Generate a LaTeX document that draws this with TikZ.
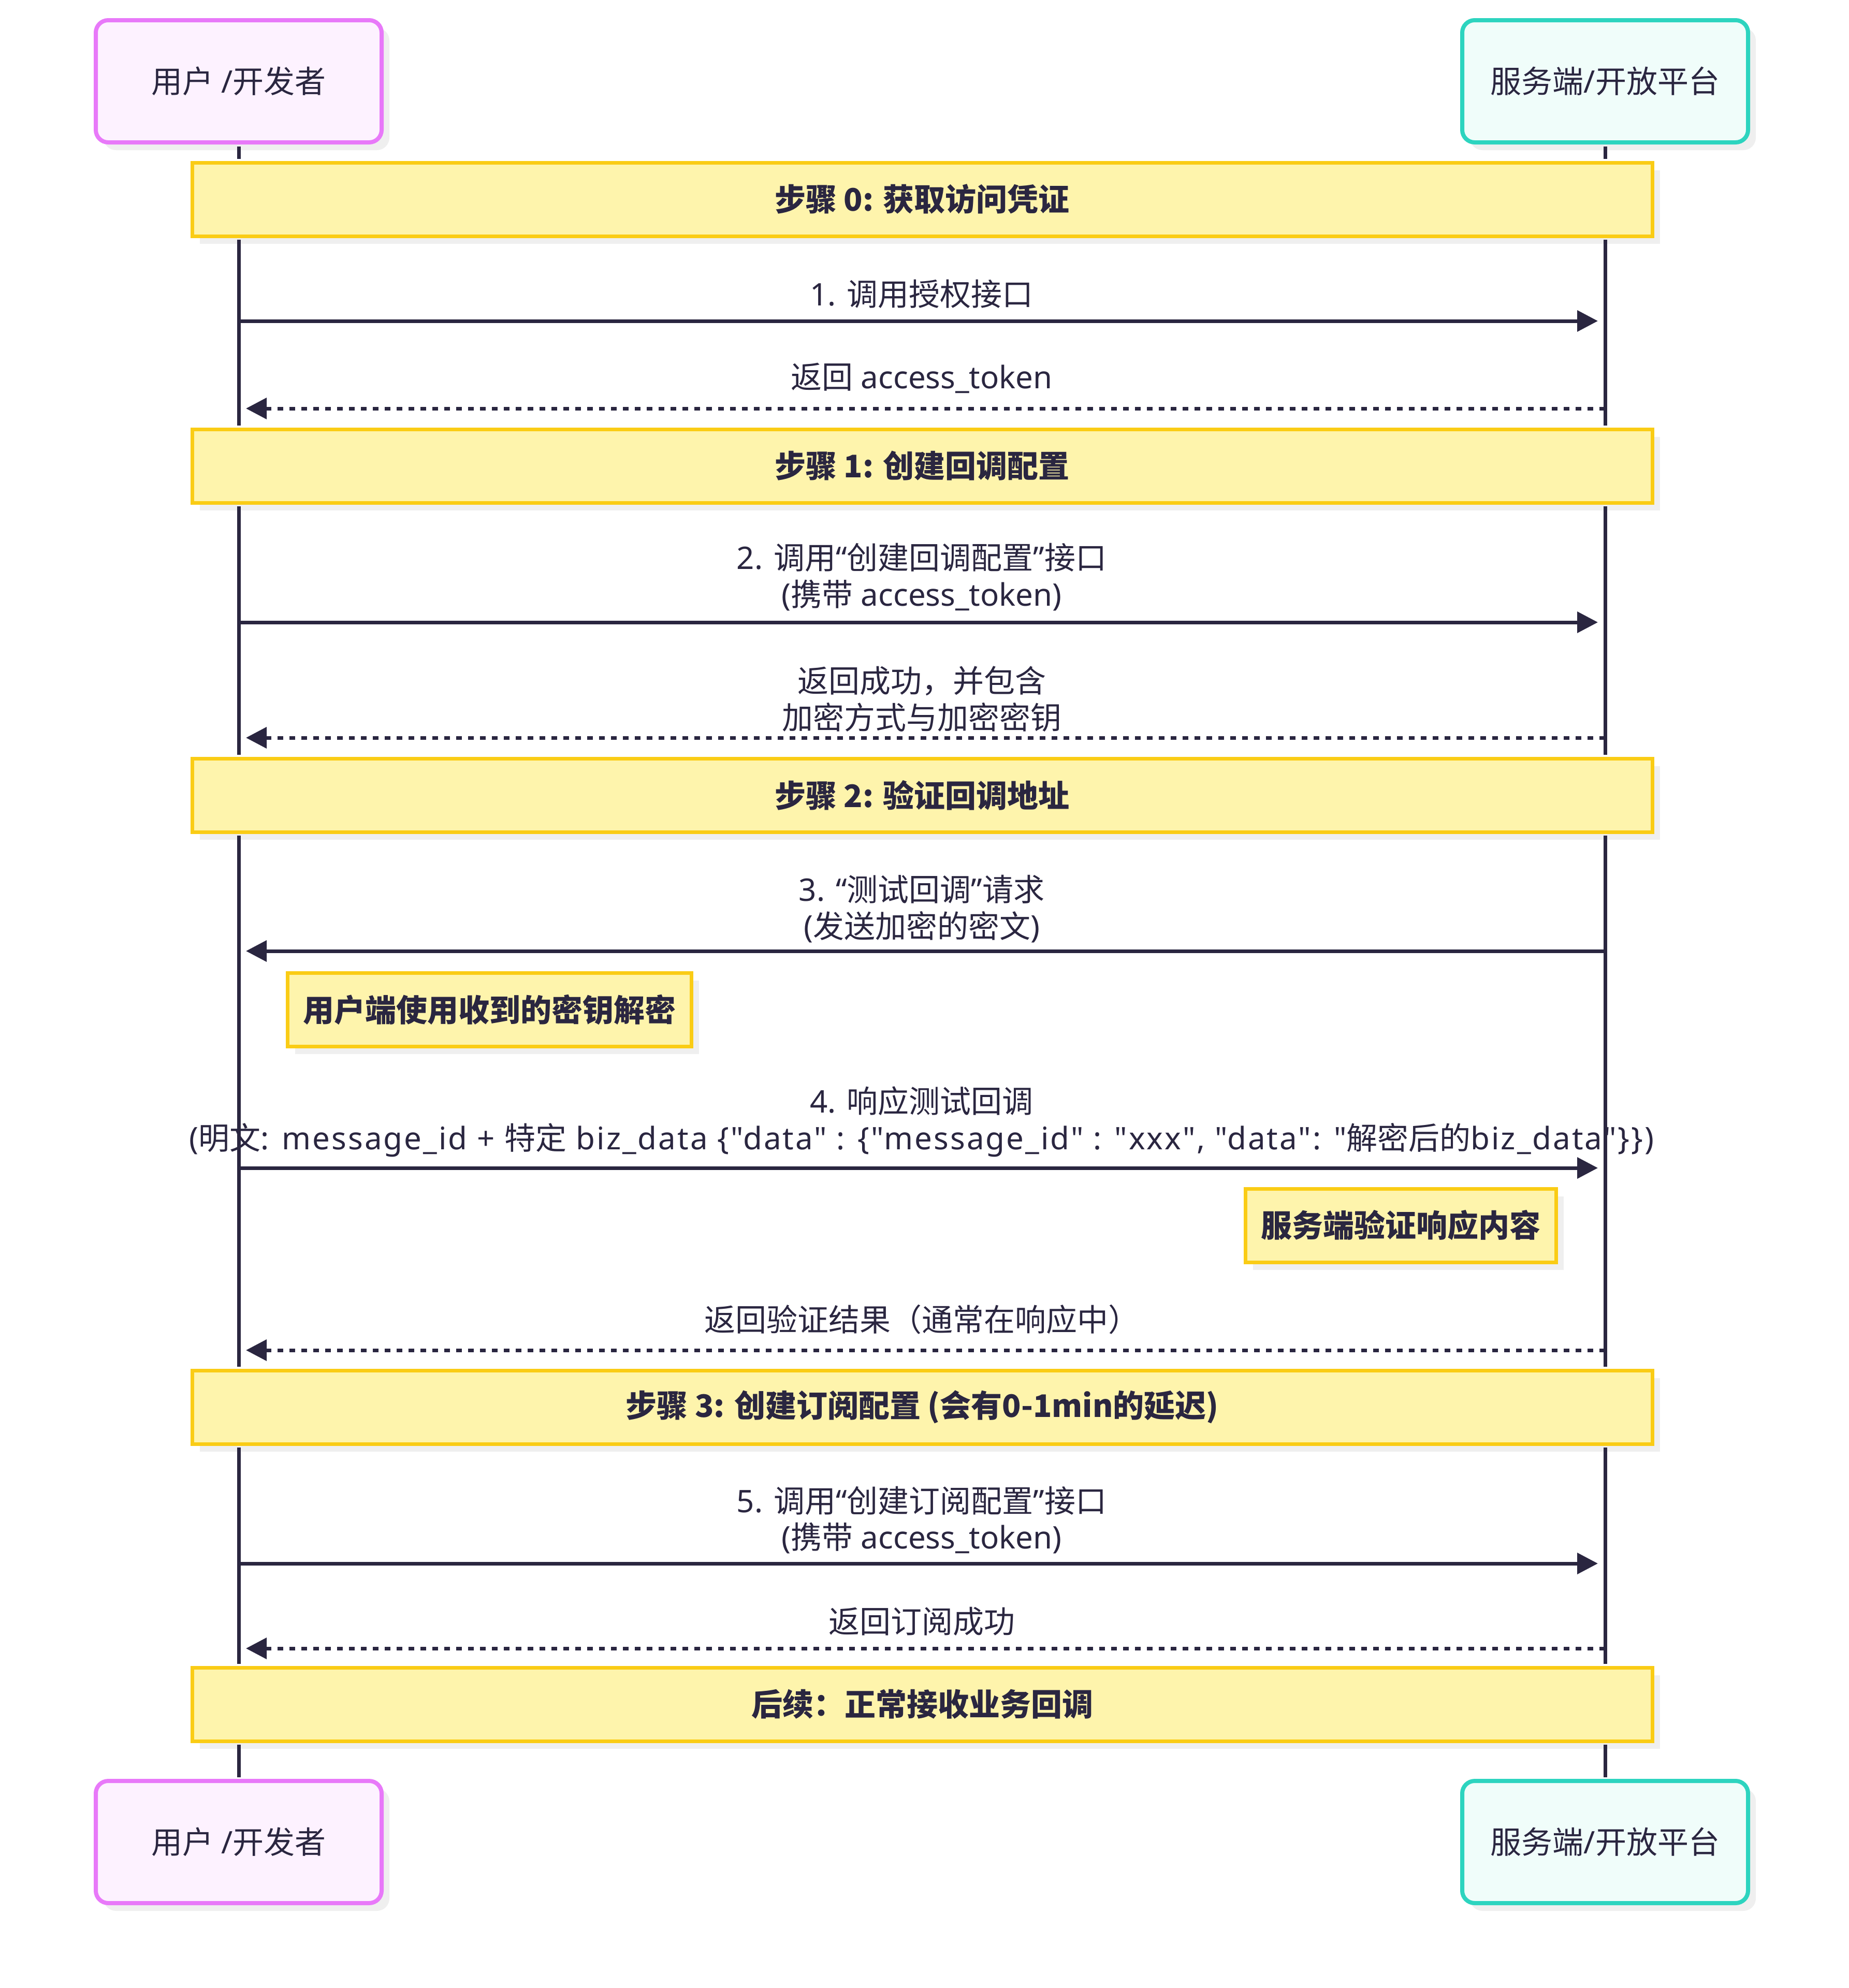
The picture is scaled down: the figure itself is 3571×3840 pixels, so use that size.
\documentclass[tikz,border=0pt]{standalone}
\usepackage{fontspec}
\setmainfont{Noto Sans CJK SC}[Ligatures=TeXOff]
\newfontfamily\latfnt{Noto Sans}[Ligatures=TeXOff]
\newfontfamily\latwide{Noto Sans}[Ligatures=TeXOff,LetterSpace=5]
\newcommand\lnx[1]{{\latfnt #1}}
\newcommand\lwx[1]{{\latwide #1}}
\usetikzlibrary{arrows.meta,shadows}
\definecolor{ink}{HTML}{2A2640}
\definecolor{pinkB}{HTML}{E879F9}
\definecolor{pinkF}{HTML}{FDF2FF}
\definecolor{tealB}{HTML}{2DD4BF}
\definecolor{tealF}{HTML}{F0FDFA}
\definecolor{noteB}{HTML}{FACC15}
\definecolor{noteF}{HTML}{FEF4AC}
\definecolor{shade}{HTML}{EFEFEF}
\tikzset{
  shad/.style={drop shadow={shadow xshift=7.5pt, shadow yshift=-7.5pt, fill=shade, opacity=1}},
  actor/.style={rounded corners=12pt, line width=4pt, minimum width=276pt, minimum height=118pt, shad, font=\fontsize{30}{36}\selectfont, text=ink},
  actorL/.style={actor, draw=pinkB, fill=pinkF},
  actorR/.style={actor, draw=tealB, fill=tealF},
  stepbox/.style={draw=noteB, fill=noteF, line width=3.5pt, shad, minimum width=1410pt, minimum height=71pt, font=\fontsize{30}{36}\selectfont\bfseries, text=ink},
  notebox/.style={draw=noteB, fill=noteF, line width=3.5pt, shad, minimum height=71pt, font=\fontsize{30}{36}\selectfont\bfseries, text=ink},
  msgtext/.style={font=\fontsize{30}{35.5}\selectfont, text=ink, align=center, inner sep=0pt},
  msg/.style={draw=ink, line width=3.5pt, -{Triangle[length=20pt,width=20pt]}, shorten >=7pt},
  ret/.style={msg, dash pattern=on 5.5pt off 6pt},
  life/.style={draw=ink, line width=3.5pt, shorten <=1.75pt, shorten >=1.75pt}
}
\begin{document}
\begin{tikzpicture}[x=0.5pt,y=-0.5pt]
\useasboundingbox (0,0) rectangle (3571,3840);
% actors
\node[actorL] (uA) at (461,157) {用户\lnx{ /}开发者};
\node[actorR] (sA) at (3100,157) {服务端\lnx{/}开放平台};
\node[actorL] (uB) at (461,3558) {用户\lnx{ /}开发者};
\node[actorR] (sB) at (3100,3558) {服务端\lnx{/}开放平台};
% step notes
\node[stepbox] (s0) at (1781,385) {步骤 0: 获取访问凭证};
\node[stepbox] (s1) at (1781,900) {步骤 1: 创建回调配置};
\node[stepbox] (s2) at (1781,1536) {步骤 2: 验证回调地址};
\node[stepbox] (s3) at (1781,2718) {步骤 3: 创建订阅配置 (会有0-1min的延迟)};
\node[stepbox] (s4) at (1781,3292) {后续：正常接收业务回调};
% side notes
\node[notebox, minimum width=390pt] (nu) at (945,1950) {用户端使用收到的密钥解密};
\node[notebox, minimum width=300pt] (ns) at (2705,2367) {服务端验证响应内容};
% lifelines
\foreach \p in {uA,sA}{
  \draw[life] (\p.south) -- (s0.north -| \p.south);
  \draw[life] (s0.south -| \p.south) -- (s1.north -| \p.south);
  \draw[life] (s1.south -| \p.south) -- (s2.north -| \p.south);
  \draw[life] (s2.south -| \p.south) -- (s3.north -| \p.south);
  \draw[life] (s3.south -| \p.south) -- (s4.north -| \p.south);
}
\draw[life] (s4.south -| uA.south) -- (uB.north);
\draw[life] (s4.south -| sA.south) -- (sB.north);
% message anchor points
\coordinate (a1) at (461,620);  \coordinate (b1) at (3100,620);
\coordinate (a2) at (461,789);  \coordinate (b2) at (3100,789);
\coordinate (a3) at (461,1202); \coordinate (b3) at (3100,1202);
\coordinate (a4) at (461,1425); \coordinate (b4) at (3100,1425);
\coordinate (a5) at (461,1837); \coordinate (b5) at (3100,1837);
\coordinate (a6) at (461,2256); \coordinate (b6) at (3100,2256);
\coordinate (a7) at (461,2608); \coordinate (b7) at (3100,2608);
\coordinate (a8) at (461,3020); \coordinate (b8) at (3100,3020);
\coordinate (a9) at (461,3184); \coordinate (b9) at (3100,3184);
% messages
\draw[msg] (a1) -- (b1);
\node[msgtext] (t1) at (1780,568) {\lnx{1. }调用授权接口};
\draw[ret] (b2) -- (a2);
\node[msgtext] (t2) at (1780,730) {返回\lnx{ access\_token}};
\draw[msg] (a3) -- (b3);
\node[msgtext] (t3) at (1780,1115) {\lnx{2. }调用\lnx{“}创建回调配置\lnx{”}接口\\\lnx{(}携带\lnx{ access\_token)}};
\draw[ret] (b4) -- (a4);
\node[msgtext] (t4) at (1780,1350) {返回成功，并包含\\加密方式与加密密钥};
\draw[msg] (b5) -- (a5);
\node[msgtext] (t5) at (1780,1756) {\lnx{3. “}测试回调\lnx{”}请求\\\lnx{(}发送加密的密文\lnx{)}};
\draw[msg] (a6) -- (b6);
\node[msgtext] (t6) at (1780,2167) {\lnx{4. }响应测试回调\\\lwx{(}明文\lwx{: message\_id + }特定\lwx{ biz\_data \{"data" : \{"message\_id" : "xxx", "data": "}解密后的\lwx{biz\_data"\}\})}};
\draw[ret] (b7) -- (a7);
\node[msgtext] (t7) at (1780,2549) {返回验证结果（通常在响应中）};
\draw[msg] (a8) -- (b8);
\node[msgtext] (t8) at (1780,2936) {\lnx{5. }调用\lnx{“}创建订阅配置\lnx{”}接口\\\lnx{(}携带\lnx{ access\_token)}};
\draw[ret] (b9) -- (a9);
\node[msgtext] (t9) at (1780,3132) {返回订阅成功};
\end{tikzpicture}
\end{document}
